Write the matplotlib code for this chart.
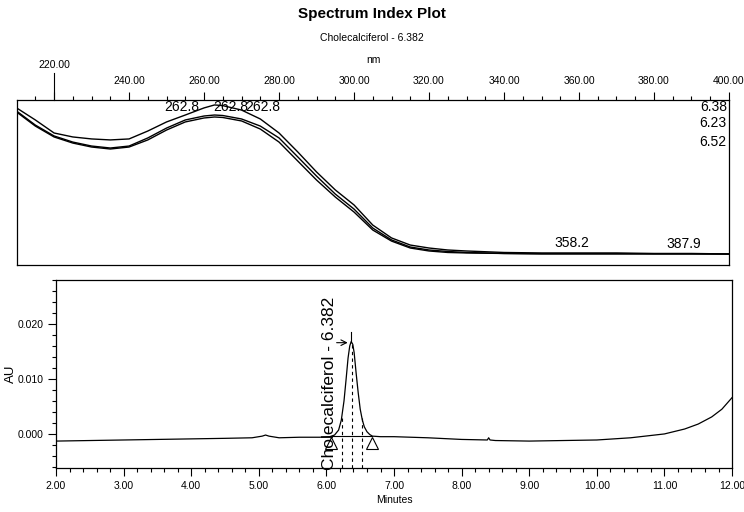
import numpy as np
import matplotlib
matplotlib.use("Agg")
import matplotlib.pyplot as plt
from matplotlib.ticker import MultipleLocator, FormatStrFormatter

# spectra (relative absorbance) for the three slices of the peak
wavelength = [210, 215, 220, 225, 230, 235, 240, 245, 250, 255, 260, 262.8, 265,
              270, 275, 280, 285, 290, 295, 300, 305, 310, 315, 320, 325, 330,
              340, 350, 360, 370, 380, 390, 400]
spec_638 = [0.952, 0.879, 0.800, 0.776, 0.764, 0.758, 0.764, 0.812, 0.867, 0.909,
            0.952, 0.970, 0.966, 0.939, 0.885, 0.800, 0.685, 0.564, 0.455, 0.364,
            0.242, 0.164, 0.121, 0.103, 0.091, 0.085, 0.076, 0.073, 0.073, 0.073,
            0.070, 0.070, 0.067]
spec_623 = [0.933, 0.848, 0.782, 0.745, 0.721, 0.709, 0.721, 0.770, 0.830, 0.879,
            0.903, 0.909, 0.906, 0.885, 0.842, 0.770, 0.655, 0.539, 0.430, 0.339,
            0.224, 0.152, 0.109, 0.091, 0.082, 0.076, 0.070, 0.069, 0.069, 0.069,
            0.068, 0.068, 0.067]
spec_652 = [0.927, 0.842, 0.776, 0.739, 0.715, 0.703, 0.715, 0.758, 0.818, 0.867,
            0.891, 0.897, 0.894, 0.873, 0.824, 0.745, 0.630, 0.515, 0.412, 0.321,
            0.212, 0.145, 0.103, 0.085, 0.076, 0.073, 0.070, 0.067, 0.067, 0.067,
            0.067, 0.067, 0.066]
spec_times = ["6.38", "6.23", "6.52"]
lambda_max = [262.8, 262.8, 262.8]
minor_max = [358.2, 387.9]

# chromatogram
minutes = [2.0, 2.5, 3.0, 3.5, 4.0, 4.5, 4.9, 5.05, 5.1, 5.15, 5.3, 5.6, 5.9,
           6.05, 6.12, 6.18, 6.22, 6.26, 6.29, 6.32, 6.345, 6.366, 6.39, 6.41,
           6.44, 6.47, 6.50, 6.53, 6.56, 6.60, 6.64, 6.68, 6.8, 7.0, 7.5, 8.0,
           8.38, 8.40, 8.42, 8.5, 9.0, 9.5, 10.0, 10.5, 11.0, 11.3, 11.5, 11.7,
           11.85, 12.0]
au = [-0.0013, -0.0012, -0.0011, -0.0010, -0.0009, -0.0008, -0.0007, -0.0004,
      -0.0002, -0.0004, -0.0007, -0.0006, -0.0006, -0.0005, -0.0002, 0.0007,
      0.0025, 0.0060, 0.0098, 0.0138, 0.0160, 0.0168, 0.0163, 0.0148, 0.0110,
      0.0075, 0.0045, 0.0026, 0.0013, 0.0004, -0.0001, -0.0004, -0.0005,
      -0.0005, -0.0007, -0.0010, -0.0011, -0.0007, -0.0011, -0.0012, -0.0013,
      -0.0012, -0.0011, -0.0007, 0.0000, 0.0009, 0.0018, 0.0031, 0.0045, 0.0066]
peak_name = "Cholecalciferol - 6.382"
peak_rt = 6.366
slice_times = [6.23, 6.38, 6.52]
peak_start, peak_end = 6.07, 6.67

narrow = ["Liberation Sans Narrow", "Liberation Sans", "DejaVu Sans"]
plt.rcParams["font.family"] = ["Liberation Sans", "DejaVu Sans"]

fig = plt.figure(figsize=(7.44, 5.12), dpi=100)

# ---- spectrum panel ----
ax1 = fig.add_axes([0.0228, 0.4824, 0.9570, 0.3223])
for s in (spec_638, spec_623, spec_652):
    ax1.plot(wavelength, s, color="black", lw=1.0)
ax1.set_xlim(210.1, 400)
ax1.set_ylim(0, 1)
ax1.set_yticks([])
ax1.xaxis.set_ticks_position("top")
ax1.xaxis.set_major_locator(MultipleLocator(20))
ax1.xaxis.set_minor_locator(MultipleLocator(5))
ax1.xaxis.set_major_formatter(
    lambda v, p: "" if abs(v - 220) < 1e-6 else f"{v:.2f}")
ax1.tick_params(axis="x", which="major", direction="out", length=6, pad=4,
                labelsize=7.5, width=0.8)
ax1.tick_params(axis="x", which="minor", direction="out", length=3, width=0.8)
for lab in ax1.get_xticklabels():
    lab.set_family(narrow)
for sp in ax1.spines.values():
    sp.set_linewidth(0.9)

# long tick and raised label for 220
tr = ax1.get_xaxis_transform()
ax1.plot([220, 220], [1.0, 1.164], color="black", lw=0.8, transform=tr,
         clip_on=False)
ax1.text(220, 1.212, "220.00", transform=tr, ha="center", va="center",
         fontsize=7.5, family=narrow)

# lambda max labels
ax1.text(lambda_max[0] - 8.8, 0.958, f"{lambda_max[0]:.1f}", ha="center",
         va="center", fontsize=10)
ax1.text(lambda_max[1] + 4.3, 0.958, f"{lambda_max[1]:.1f}", ha="center",
         va="center", fontsize=10)
ax1.text(lambda_max[2] + 12.9, 0.958, f"{lambda_max[2]:.1f}", ha="center",
         va="center", fontsize=10)
for wl, yy in zip(minor_max, [0.133, 0.127]):
    ax1.text(wl, yy, f"{wl:.1f}", ha="center", va="center", fontsize=10)
for lab, yy in zip(spec_times, [0.958, 0.861, 0.745]):
    ax1.text(0.997, yy, lab, transform=ax1.transAxes, ha="right",
             va="center", fontsize=10)

fig.text(0.5, 0.972, "Spectrum Index Plot", ha="center", va="center",
         fontsize=11, fontweight="bold", family=narrow)
fig.text(0.5, 0.926, "Cholecalciferol - 6.382", ha="center", va="center",
         fontsize=7.5, family=narrow)
fig.text(0.502, 0.883, "nm", ha="center", va="center", fontsize=7.5,
         family=narrow)

# ---- chromatogram panel ----
ax2 = fig.add_axes([0.0753, 0.0859, 0.9086, 0.3672])
ax2.plot(minutes, au, color="black", lw=0.9)
ax2.set_xlim(2, 12)
ax2.set_ylim(-0.0062, 0.028)
ax2.xaxis.set_major_locator(MultipleLocator(1))
ax2.xaxis.set_minor_locator(MultipleLocator(0.2))
ax2.yaxis.set_major_locator(MultipleLocator(0.01))
ax2.yaxis.set_minor_locator(MultipleLocator(0.002))
ax2.xaxis.set_major_formatter(FormatStrFormatter("%.2f"))
ax2.yaxis.set_major_formatter(FormatStrFormatter("%.3f"))
ax2.tick_params(which="major", direction="out", length=6, width=0.8,
                labelsize=7.5, pad=3)
ax2.tick_params(which="minor", direction="out", length=3, width=0.8)
for lab in ax2.get_xticklabels() + ax2.get_yticklabels():
    lab.set_family(narrow)
for sp in ax2.spines.values():
    sp.set_linewidth(0.9)
ax2.set_xlabel("Minutes", fontsize=7.5, family=narrow, labelpad=3)
ax2.set_ylabel("AU", fontsize=9.5)
ax2.yaxis.set_label_coords(-0.058, 0.5)

# peak annotation
apex = np.interp(peak_rt, minutes, au)
ax2.text(6.044, -0.01, peak_name, rotation=90, ha="center", va="bottom",
         fontsize=12.5, transform=ax2.get_xaxis_transform(), clip_on=False)
ax2.annotate("", xy=(peak_rt - 0.01, apex - 0.0002), xytext=(6.11, apex - 0.0002),
             arrowprops=dict(arrowstyle="->", color="black", lw=0.8))
ax2.plot([peak_rt, peak_rt], [apex, apex + 0.0017], color="black", lw=0.8)
for t in slice_times:
    ax2.plot([t, t], [-0.0062, np.interp(t, minutes, au)], color="black",
             lw=0.8, ls=(0, (3, 3)))
ax2.plot([peak_start, peak_end], [-0.0004, -0.0004], color="black", lw=0.8)
ax2.plot([peak_start, peak_end], [-0.0016, -0.0016], ls="none", marker="^",
         ms=8, mfc="white", mec="black", mew=0.8)

fig.savefig("out.png", dpi=100)
